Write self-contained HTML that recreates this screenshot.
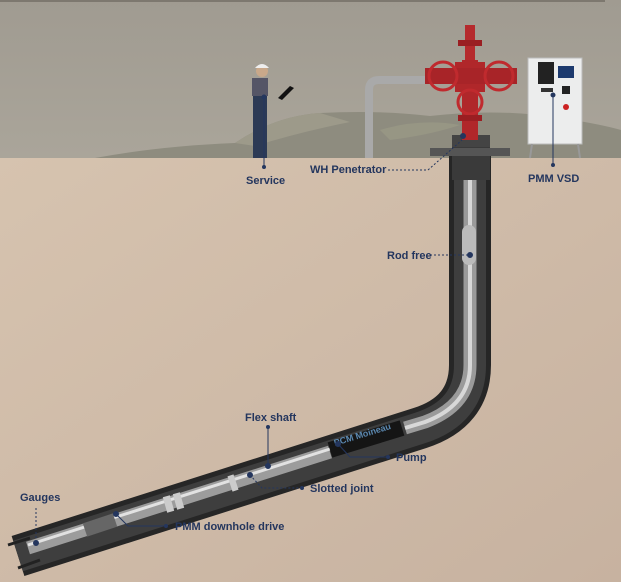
<!DOCTYPE html>
<html><head><style>
html,body{margin:0;padding:0;width:621px;height:582px;overflow:hidden;}
text{font-family:"Liberation Sans",sans-serif;font-weight:bold;font-size:11px;fill:#24365e;}
</style></head><body>
<svg width="621" height="582" viewBox="0 0 621 582" xmlns="http://www.w3.org/2000/svg">
<defs>
<linearGradient id="sky" x1="0" y1="0" x2="0" y2="1"><stop offset="0" stop-color="#a09b91"/><stop offset="1" stop-color="#aaa59a"/></linearGradient>
<linearGradient id="gr" x1="0" y1="0" x2="1" y2="1"><stop offset="0" stop-color="#d6c3af"/><stop offset="1" stop-color="#c7b2a0"/></linearGradient>
</defs>
<rect width="621" height="158" fill="url(#sky)"/>
<rect y="0" width="605" height="2" fill="#7d786f"/>
<rect y="158" width="621" height="424" fill="url(#gr)"/>
<!-- hills -->
<path d="M95 158 Q160 146 235 143 Q275 116 320 113 Q380 110 430 116 Q500 108 560 118 Q600 124 621 130 L621 158 Z" fill="#8e8c7f"/>
<path d="M235 143 Q275 116 320 113 L350 122 Q300 132 255 146Z" fill="#9d9a8a"/>
<path d="M380 130 Q420 118 460 125 Q430 135 390 140Z" fill="#979684"/>
<!-- casing -->
<path d="M470 150 L470 365 Q470 412 420 428 L18 556" fill="none" stroke="#262626" stroke-width="42"/>
<path d="M470 150 L470 365 Q470 412 420 428 L18 556" fill="none" stroke="#3e3e3e" stroke-width="32"/>
<path d="M470 175 L470 365 Q470 405 425 422 L405 428" fill="none" stroke="#9a9a9a" stroke-width="13"/>
<path d="M470 175 L470 365 Q470 405 425 422 L405 428" fill="none" stroke="#d8d8d8" stroke-width="4"/>
<rect x="462" y="225" width="14" height="40" rx="7" fill="#bbb"/>
<!-- downhole string -->
<path d="M28 548 L330 452" fill="none" stroke="#9c9c9c" stroke-width="13"/>
<path d="M28 545 L330 449" fill="none" stroke="#e2e2e2" stroke-width="3"/>
<path d="M85 530 L115 520" stroke="#666" stroke-width="14"/>
<path d="M165 505 L172 503 M175 502 L182 500 M230 484 L236 482" stroke="#ccc" stroke-width="16"/>
<path d="M330 450 L402 428" fill="none" stroke="#151515" stroke-width="16"/>
<text x="335" y="446" transform="rotate(-17 335 446)" style="fill:#5b88b0;font-size:9px">PCM Moineau</text>
<path d="M8 545 L30 538 M18 568 L40 560" stroke="#222" stroke-width="3"/>
<!-- wellhead -->
<rect x="452" y="140" width="38" height="40" fill="#3a3a3a"/>
<rect x="430" y="148" width="80" height="8" fill="#555"/>
<rect x="452" y="135" width="38" height="12" fill="#444"/>
<rect x="462" y="60" width="16" height="80" fill="#b0272a"/>
<rect x="465" y="25" width="10" height="35" fill="#b52a2d"/>
<rect x="458" y="40" width="24" height="6" fill="#9a1e22"/>
<rect x="455" y="62" width="30" height="30" fill="#b0272a"/>
<rect x="425" y="68" width="92" height="16" fill="#a82428"/>
<circle cx="443" cy="76" r="14" fill="none" stroke="#c02a2e" stroke-width="3"/>
<circle cx="499" cy="76" r="14" fill="none" stroke="#c02a2e" stroke-width="3"/>
<circle cx="470" cy="102" r="12" fill="none" stroke="#c02a2e" stroke-width="3"/>
<rect x="458" y="115" width="24" height="6" fill="#9a1e22"/>
<path d="M369 158 L369 90 Q369 80 379 80 L425 80" fill="none" stroke="#a9a9a9" stroke-width="8"/>
<!-- VSD -->
<rect x="528" y="58" width="54" height="86" fill="#eceded" stroke="#bbb"/>
<rect x="538" y="62" width="16" height="22" fill="#222"/>
<rect x="558" y="66" width="16" height="12" fill="#1d3a6e"/>
<rect x="541" y="88" width="12" height="4" fill="#333"/>
<rect x="562" y="86" width="8" height="8" fill="#222"/>
<circle cx="566" cy="107" r="3" fill="#c22"/>
<path d="M532 144 L530 158 M578 144 L580 158" stroke="#999" stroke-width="2"/>
<!-- person -->
<rect x="253" y="88" width="14" height="38" fill="#2c3a55"/>
<rect x="252" y="78" width="16" height="18" fill="#556"/>
<circle cx="262" cy="71" r="6" fill="#c9a88a"/>
<path d="M255 68 Q262 60 269 68Z" fill="#eee"/>
<rect x="253" y="125" width="14" height="33" fill="#2c3a55"/>
<path d="M278 98 L290 86 L294 88 L282 100Z" fill="#111"/>
<!-- leaders -->
<g stroke="#24365e" stroke-width="1" fill="#24365e">
<line x1="264" y1="97" x2="264" y2="167"/><circle cx="264" cy="97" r="2"/><circle cx="264" cy="167" r="1.5"/>
<path d="M388 170 L428 170 L462 140" fill="none" stroke-dasharray="2,2"/><circle cx="463" cy="136" r="2.5"/>
<line x1="553" y1="95" x2="553" y2="165"/><circle cx="553" cy="95" r="2"/><circle cx="553" cy="165" r="1.5"/>
<line x1="430" y1="255" x2="470" y2="255" stroke-dasharray="2,2"/><circle cx="470" cy="255" r="2.5"/>
<line x1="268" y1="427" x2="268" y2="466"/><circle cx="268" cy="427" r="1.5"/><circle cx="268" cy="466" r="2.5"/>
<path d="M338 444 L350 457 L388 457" fill="none"/><circle cx="338" cy="444" r="2.5"/><circle cx="388" cy="457" r="1.5"/>
<path d="M250 475 L262 488 L302 488" fill="none" stroke-dasharray="2,2"/><circle cx="250" cy="475" r="2.5"/><circle cx="302" cy="488" r="1.5"/>
<path d="M116 514 L128 526 L166 526" fill="none"/><circle cx="116" cy="514" r="2.5"/><circle cx="166" cy="526" r="1.5"/>
<line x1="36" y1="508" x2="36" y2="542" stroke-dasharray="2,2"/><circle cx="36" cy="543" r="2.5"/>
</g>
<text x="246" y="184">Service</text>
<text x="310" y="173">WH Penetrator</text>
<text x="528" y="182">PMM VSD</text>
<text x="387" y="259">Rod free</text>
<text x="245" y="421">Flex shaft</text>
<text x="396" y="461">Pump</text>
<text x="310" y="492">Slotted joint</text>
<text x="20" y="501">Gauges</text>
<text x="175" y="530">PMM downhole drive</text>
</svg>
</body></html>
